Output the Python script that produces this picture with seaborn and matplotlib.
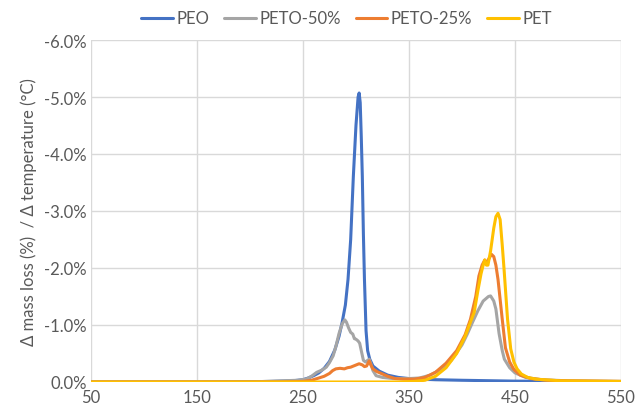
import matplotlib
matplotlib.use("Agg")
import matplotlib.pyplot as plt
import pandas as pd
import seaborn as sns
from matplotlib.ticker import FuncFormatter

# Data (temperature in °C, mass-loss rate in % per °C)
peo_x = [50, 150, 200, 220, 240, 250, 255, 260, 265, 270, 275, 280, 284, 287, 290,
         292.5, 295, 297.5, 300, 302, 303, 304, 305, 306, 307, 308, 309.5, 311, 313,
         316, 322, 330, 340, 350, 375, 400, 450, 500, 550]
peo_y = [0.0, 0.0, 0.005, 0.01, 0.02, 0.04, 0.07, 0.11, 0.16, 0.24, 0.36, 0.56, 0.8,
         1.05, 1.35, 1.8, 2.5, 3.6, 4.5, 5.0, 5.07, 4.9, 4.3, 3.6, 2.6, 1.8, 0.9, 0.55,
         0.4, 0.28, 0.19, 0.12, 0.08, 0.06, 0.04, 0.03, 0.015, 0.01, 0.005]

peto50_x = [50, 200, 230, 245, 253, 258, 263, 268, 272, 275, 278.5, 281, 284, 287,
            289.5, 291, 293, 295, 297, 298.5, 300, 302, 303.5, 305, 307, 309, 311,
            312.5, 314, 316, 319, 325, 335, 350, 360, 370, 380, 390, 400, 405, 410,
            415, 420, 425, 427, 430, 432, 435, 438, 440, 445, 450, 460, 475, 500, 550]
peto50_y = [0.0, 0.0, 0.02, 0.03, 0.05, 0.1, 0.17, 0.21, 0.26, 0.34, 0.46, 0.62, 0.85,
            1.02, 1.09, 1.05, 0.95, 0.87, 0.84, 0.76, 0.75, 0.72, 0.68, 0.55, 0.38,
            0.35, 0.38, 0.4, 0.32, 0.2, 0.11, 0.08, 0.06, 0.06, 0.07, 0.12, 0.22, 0.38,
            0.65, 0.84, 1.05, 1.25, 1.42, 1.5, 1.51, 1.42, 1.28, 0.85, 0.55, 0.4, 0.25,
            0.16, 0.08, 0.04, 0.02, 0.01]

peto25_x = [50, 230, 250, 258, 265, 270, 275, 278, 281, 285, 289, 292, 295, 299, 303,
            306, 308, 310, 312.5, 314, 316, 320, 325, 330, 337, 345, 355, 365, 375,
            385, 395, 403, 408, 413, 416, 419, 421.5, 423, 425, 427.8, 430, 432, 434,
            436, 438, 441, 445, 449, 455, 465, 480, 500, 550]
peto25_y = [0.0, 0.0, 0.01, 0.03, 0.07, 0.1, 0.15, 0.2, 0.23, 0.24, 0.23, 0.25, 0.26,
            0.29, 0.32, 0.3, 0.27, 0.28, 0.37, 0.3, 0.23, 0.18, 0.14, 0.1, 0.06, 0.05,
            0.05, 0.08, 0.17, 0.33, 0.55, 0.83, 1.1, 1.5, 1.86, 2.05, 2.14, 2.08, 2.15,
            2.24, 2.2, 2.05, 1.8, 1.45, 1.1, 0.6, 0.35, 0.22, 0.12, 0.06, 0.03, 0.02,
            0.01]

pet_x = [50, 300, 340, 355, 365, 375, 385, 395, 403, 408, 411.5, 415, 418, 420, 421.5,
         423, 424.5, 427, 430, 432, 434, 436, 438, 439.7, 441.5, 443, 446, 449, 452,
         456, 462, 470, 493, 550]
pet_y = [0.0, 0.0, 0.0, 0.01, 0.03, 0.1, 0.25, 0.5, 0.8, 1.05, 1.22, 1.6, 1.9, 2.05,
         2.14, 2.05, 2.05, 2.3, 2.7, 2.9, 2.96, 2.85, 2.4, 1.98, 1.5, 1.1, 0.58, 0.35,
         0.23, 0.14, 0.08, 0.05, 0.02, 0.01]

series = ["PEO", "PETO-50%", "PETO-25%", "PET"]
colors = ["#4472C4", "#A5A5A5", "#ED7D31", "#FFC000"]

frames = []
for name, xs, ys in [("PEO", peo_x, peo_y), ("PETO-50%", peto50_x, peto50_y),
                     ("PETO-25%", peto25_x, peto25_y), ("PET", pet_x, pet_y)]:
    frames.append(pd.DataFrame({"temp": xs, "rate": [-v / 100 for v in ys], "sample": name}))
df = pd.concat(frames, ignore_index=True)

sns.set_style("white")
plt.rcParams["font.family"] = ["Lato", "DejaVu Sans"]

fig = plt.figure(figsize=(6.38, 4.06), dpi=100)
ax = fig.add_axes([0.1426, 0.0567, 0.8307, 0.8423])

sns.lineplot(data=df, x="temp", y="rate", hue="sample", hue_order=series,
             palette=colors, linewidth=2.2, sort=False, estimator=None, ax=ax)

ax.set_xlim(50, 550)
ax.set_ylim(0, -0.06)
ax.set_xticks([50, 150, 250, 350, 450, 550])
ax.set_yticks([0, -0.01, -0.02, -0.03, -0.04, -0.05, -0.06])
ax.yaxis.set_major_formatter(FuncFormatter(lambda v, p: f"{v * 100:.1f}%"))
ax.grid(True, color="#D9D9D9", linewidth=1.0)
ax.set_axisbelow(True)
for s in ax.spines.values():
    s.set_visible(False)
ax.tick_params(axis="both", length=0, labelsize=12, colors="#595959")
ax.tick_params(axis="x", pad=5)
ax.tick_params(axis="y", pad=3)

ax.set_xlabel("")
ax.set_ylabel("Δ mass loss (%)  / Δ temperature (°C)", fontsize=12, color="#595959",
              labelpad=5)

ax.legend_.remove()
handles, labels = ax.get_legend_handles_labels()
fig.legend(handles, labels, loc="center", bbox_to_anchor=(0.543, 0.952), ncol=4,
           frameon=False, fontsize=12, labelcolor="#595959", handlelength=1.9,
           handletextpad=0.2, columnspacing=0.9)

fig.savefig("out.png", dpi=100)
